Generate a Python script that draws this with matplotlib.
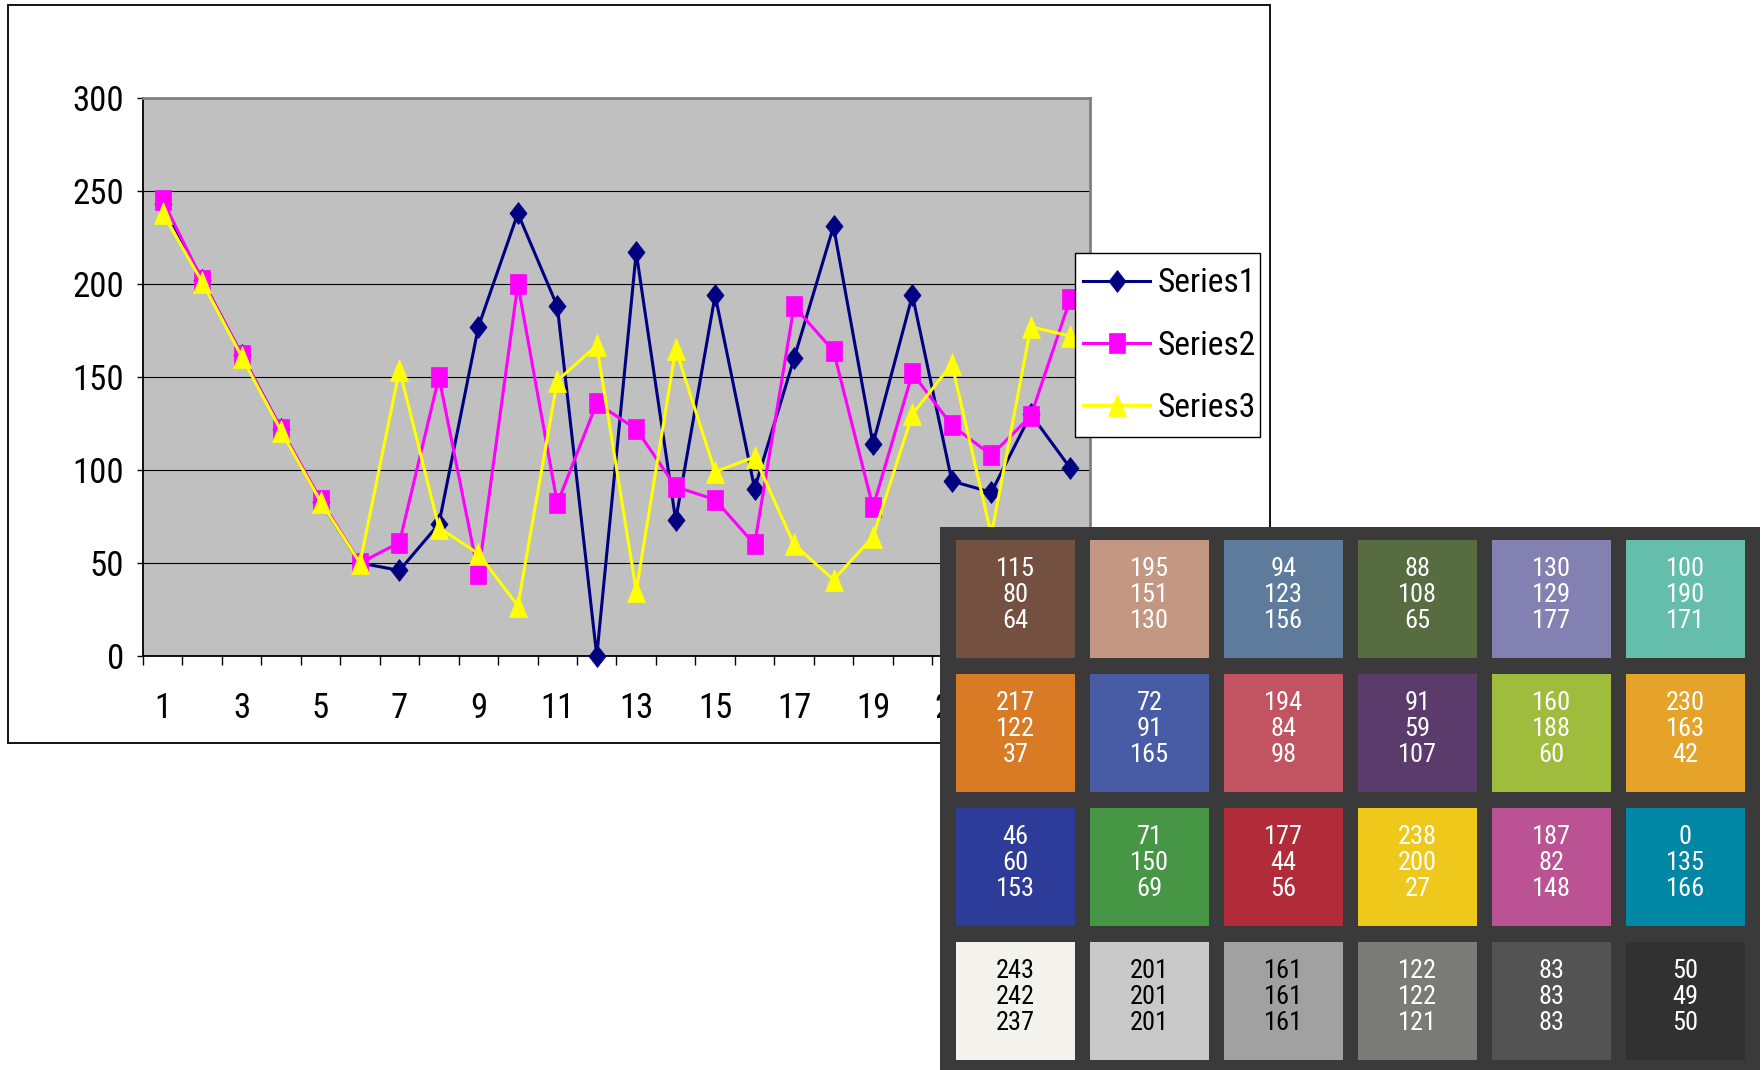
import matplotlib
matplotlib.use("Agg")
import matplotlib.pyplot as plt
from matplotlib.patches import Rectangle
from matplotlib.path import Path
from matplotlib.font_manager import FontProperties, fontManager
import numpy as np

# ---- line chart data ----
categories = list(range(1, 25))
series_names = ["Series1", "Series2", "Series3"]
series1 = [243, 202, 162, 122, 83, 50, 46, 71, 177, 238, 188, 0,
           217, 73, 194, 90, 160, 231, 114, 194, 94, 88, 130, 101]
series2 = [245, 202, 162, 122, 84, 50, 61, 150, 44, 200, 82, 136,
           122, 91, 84, 60, 188, 164, 80, 152, 124, 108, 129, 192]
series3 = [238, 201, 161, 121, 83, 50, 154, 69, 55, 27, 148, 167,
           35, 165, 99, 107, 60, 41, 64, 130, 157, 65, 177, 172]
y_ticks = [0, 50, 100, 150, 200, 250, 300]
x_labels = [1, 3, 5, 7, 9, 11, 13, 15, 17, 19, 21, 23]

# ---- colour checker patches (RGB), row by row ----
checker_row1 = [(115, 80, 64), (195, 151, 130), (94, 123, 156),
                (88, 108, 65), (130, 129, 177), (100, 190, 171)]
checker_row2 = [(217, 122, 37), (72, 91, 165), (194, 84, 98),
                (91, 59, 107), (160, 188, 60), (230, 163, 42)]
checker_row3 = [(46, 60, 153), (71, 150, 69), (177, 44, 56),
                (238, 200, 27), (187, 82, 148), (0, 135, 166)]
checker_row4 = [(243, 242, 237), (201, 201, 201), (161, 161, 161),
                (122, 122, 121), (83, 83, 83), (50, 49, 50)]
checker_rows = [checker_row1, checker_row2, checker_row3, checker_row4]


def narrow_font_file():
    """Return the file of an installed narrow sans face, if any."""
    prefs = ["Liberation Sans Narrow", "Arial Narrow", "Roboto Condensed",
             "Noto Sans", "Open Sans"]
    cands = []
    for f in fontManager.ttflist:
        st = str(f.stretch).lower()
        nm = f.name
        narrow = (st in ("condensed", "semi-condensed") or "Narrow" in nm
                  or ("Condensed" in nm and "Extra" not in nm
                      and "Semi" not in nm))
        if narrow and f.style == "normal" and f.weight in (400, "normal",
                                                           "regular", "book"):
            cands.append(f)
    for p in prefs:
        for want in ("condensed", "semi-condensed"):
            for f in cands:
                if f.name.startswith(p) and (str(f.stretch).lower() == want
                                             or "Narrow" in f.name):
                    return f.fname
    return None


NARROW = narrow_font_file()
if NARROW:
    def fp(size):
        return FontProperties(fname=NARROW, size=size)
    TICK_SIZE, LEG_SIZE, CELL_SIZE, CELL_LS = 25, 24, 19, 1.1
else:
    def fp(size):
        return FontProperties(family=["Liberation Sans", "DejaVu Sans"],
                              size=size)
    TICK_SIZE, LEG_SIZE, CELL_SIZE, CELL_LS = 23, 21, 17, 1.22

W, H = 1765, 1070
fig = plt.figure(figsize=(W / 100, H / 100), dpi=100)
fig.patch.set_facecolor("white")


def rect_px(x0, y0, x1, y1):
    """Axes rectangle from pixel corners (top-left origin)."""
    return [x0 / W, 1 - y1 / H, (x1 - x0) / W, (y1 - y0) / H]


def poly(verts):
    return Path(verts + [verts[0]], closed=True)


# slightly tall marker shapes
diamond = poly([(0, 1), (0.78, 0), (0, -1), (-0.78, 0)])
square = poly([(-0.8, -1), (0.8, -1), (0.8, 1), (-0.8, 1)])
triangle = poly([(0, 1), (0.82, -1), (-0.82, -1)])

# chart frame
frame = Rectangle((8 / W, 1 - 743 / H), (1270 - 8) / W, (743 - 5) / H,
                  transform=fig.transFigure, facecolor="white",
                  edgecolor="black", linewidth=1.3, zorder=-1)
fig.add_artist(frame)

ax = fig.add_axes(rect_px(143, 98, 1090, 656))
ax.set_facecolor("#c0c0c0")
ax.set_xlim(0.5, 24.5)
ax.set_ylim(0, 300)

ax.set_yticks(y_ticks)
ax.set_yticklabels([str(v) for v in y_ticks])
ax.yaxis.grid(True, color="black", linewidth=0.8)
ax.set_axisbelow(True)

boundaries = np.arange(0.5, 25, 1.0)
ax.set_xticks(boundaries)
ax.set_xticklabels([])
ax.set_xticks(x_labels, minor=True)
ax.set_xticklabels([str(v) for v in x_labels], minor=True)

ax.tick_params(axis="x", which="major", direction="out", length=6.5,
               width=1.0, color="black")
ax.tick_params(axis="x", which="minor", length=0, pad=26)
ax.tick_params(axis="y", direction="out", length=4.3, width=1.0, pad=9.4)
for lab in ax.get_yticklabels() + ax.get_xticklabels(minor=True):
    lab.set_fontproperties(fp(TICK_SIZE))

for side in ("left", "bottom"):
    ax.spines[side].set_color("black")
    ax.spines[side].set_linewidth(1.3)
for side in ("top", "right"):
    ax.spines[side].set_color("#808080")
    ax.spines[side].set_linewidth(2.0)

ax.plot(categories, series1, color="#000080", lw=2.2, marker=diamond,
        ms=15.8, mew=0.5, mec="#000080", mfc="#000080",
        label=series_names[0], clip_on=False, zorder=3)
ax.plot(categories, series2, color="#ff00ff", lw=2.2, marker=square,
        ms=13.7, mew=0.5, mec="#ff00ff", mfc="#ff00ff",
        label=series_names[1], clip_on=False, zorder=4)
ax.plot(categories, series3, color="#ffff00", lw=2.2, marker=triangle,
        ms=15.8, mew=0.5, mec="#ffff00", mfc="#ffff00",
        label=series_names[2], clip_on=False, zorder=5)

# legend box, drawn above the plotted lines
leg_box = Rectangle((1075 / W, 1 - 437 / H), (1260 - 1075) / W,
                    (437 - 253) / H, transform=fig.transFigure,
                    facecolor="white", edgecolor="black", linewidth=1.0,
                    clip_on=False, zorder=6)
ax.add_artist(leg_box)

fs_px = LEG_SIZE * 100 / 72
leg = ax.legend(loc="center left", bbox_to_anchor=(1083 / W, 1 - 345.5 / H),
                bbox_transform=fig.transFigure, borderaxespad=0,
                borderpad=0, frameon=False, prop=fp(LEG_SIZE),
                handlelength=67 / fs_px, handletextpad=8 / fs_px,
                labelspacing=(61 - 0.92 * fs_px) / fs_px)
leg.set_zorder(7)

# colour checker panel
cax = fig.add_axes(rect_px(940, 527, 1760, 1070))
cax.set_zorder(5)
cax.set_facecolor("#3a3a3a")
cax.set_xlim(0, 820)
cax.set_ylim(543, 0)
cax.set_xticks([])
cax.set_yticks([])
for sp in cax.spines.values():
    sp.set_visible(False)

pitch, pw, ph, ox, oy = 134, 119, 118, 16, 13
for r, row in enumerate(checker_rows):
    for c, rgb in enumerate(row):
        x0 = ox + c * pitch
        y0 = oy + r * pitch
        cax.add_patch(Rectangle((x0, y0), pw, ph,
                                facecolor=np.array(rgb) / 255.0,
                                edgecolor="none"))
        txt_color = "black" if min(rgb) > 140 else "white"
        cax.text(x0 + pw / 2, y0 + ph / 2 - 4,
                 "\n".join(str(v) for v in rgb), ha="center", va="center",
                 linespacing=CELL_LS, color=txt_color,
                 fontproperties=fp(CELL_SIZE))

fig.savefig("out.png", dpi=100)
